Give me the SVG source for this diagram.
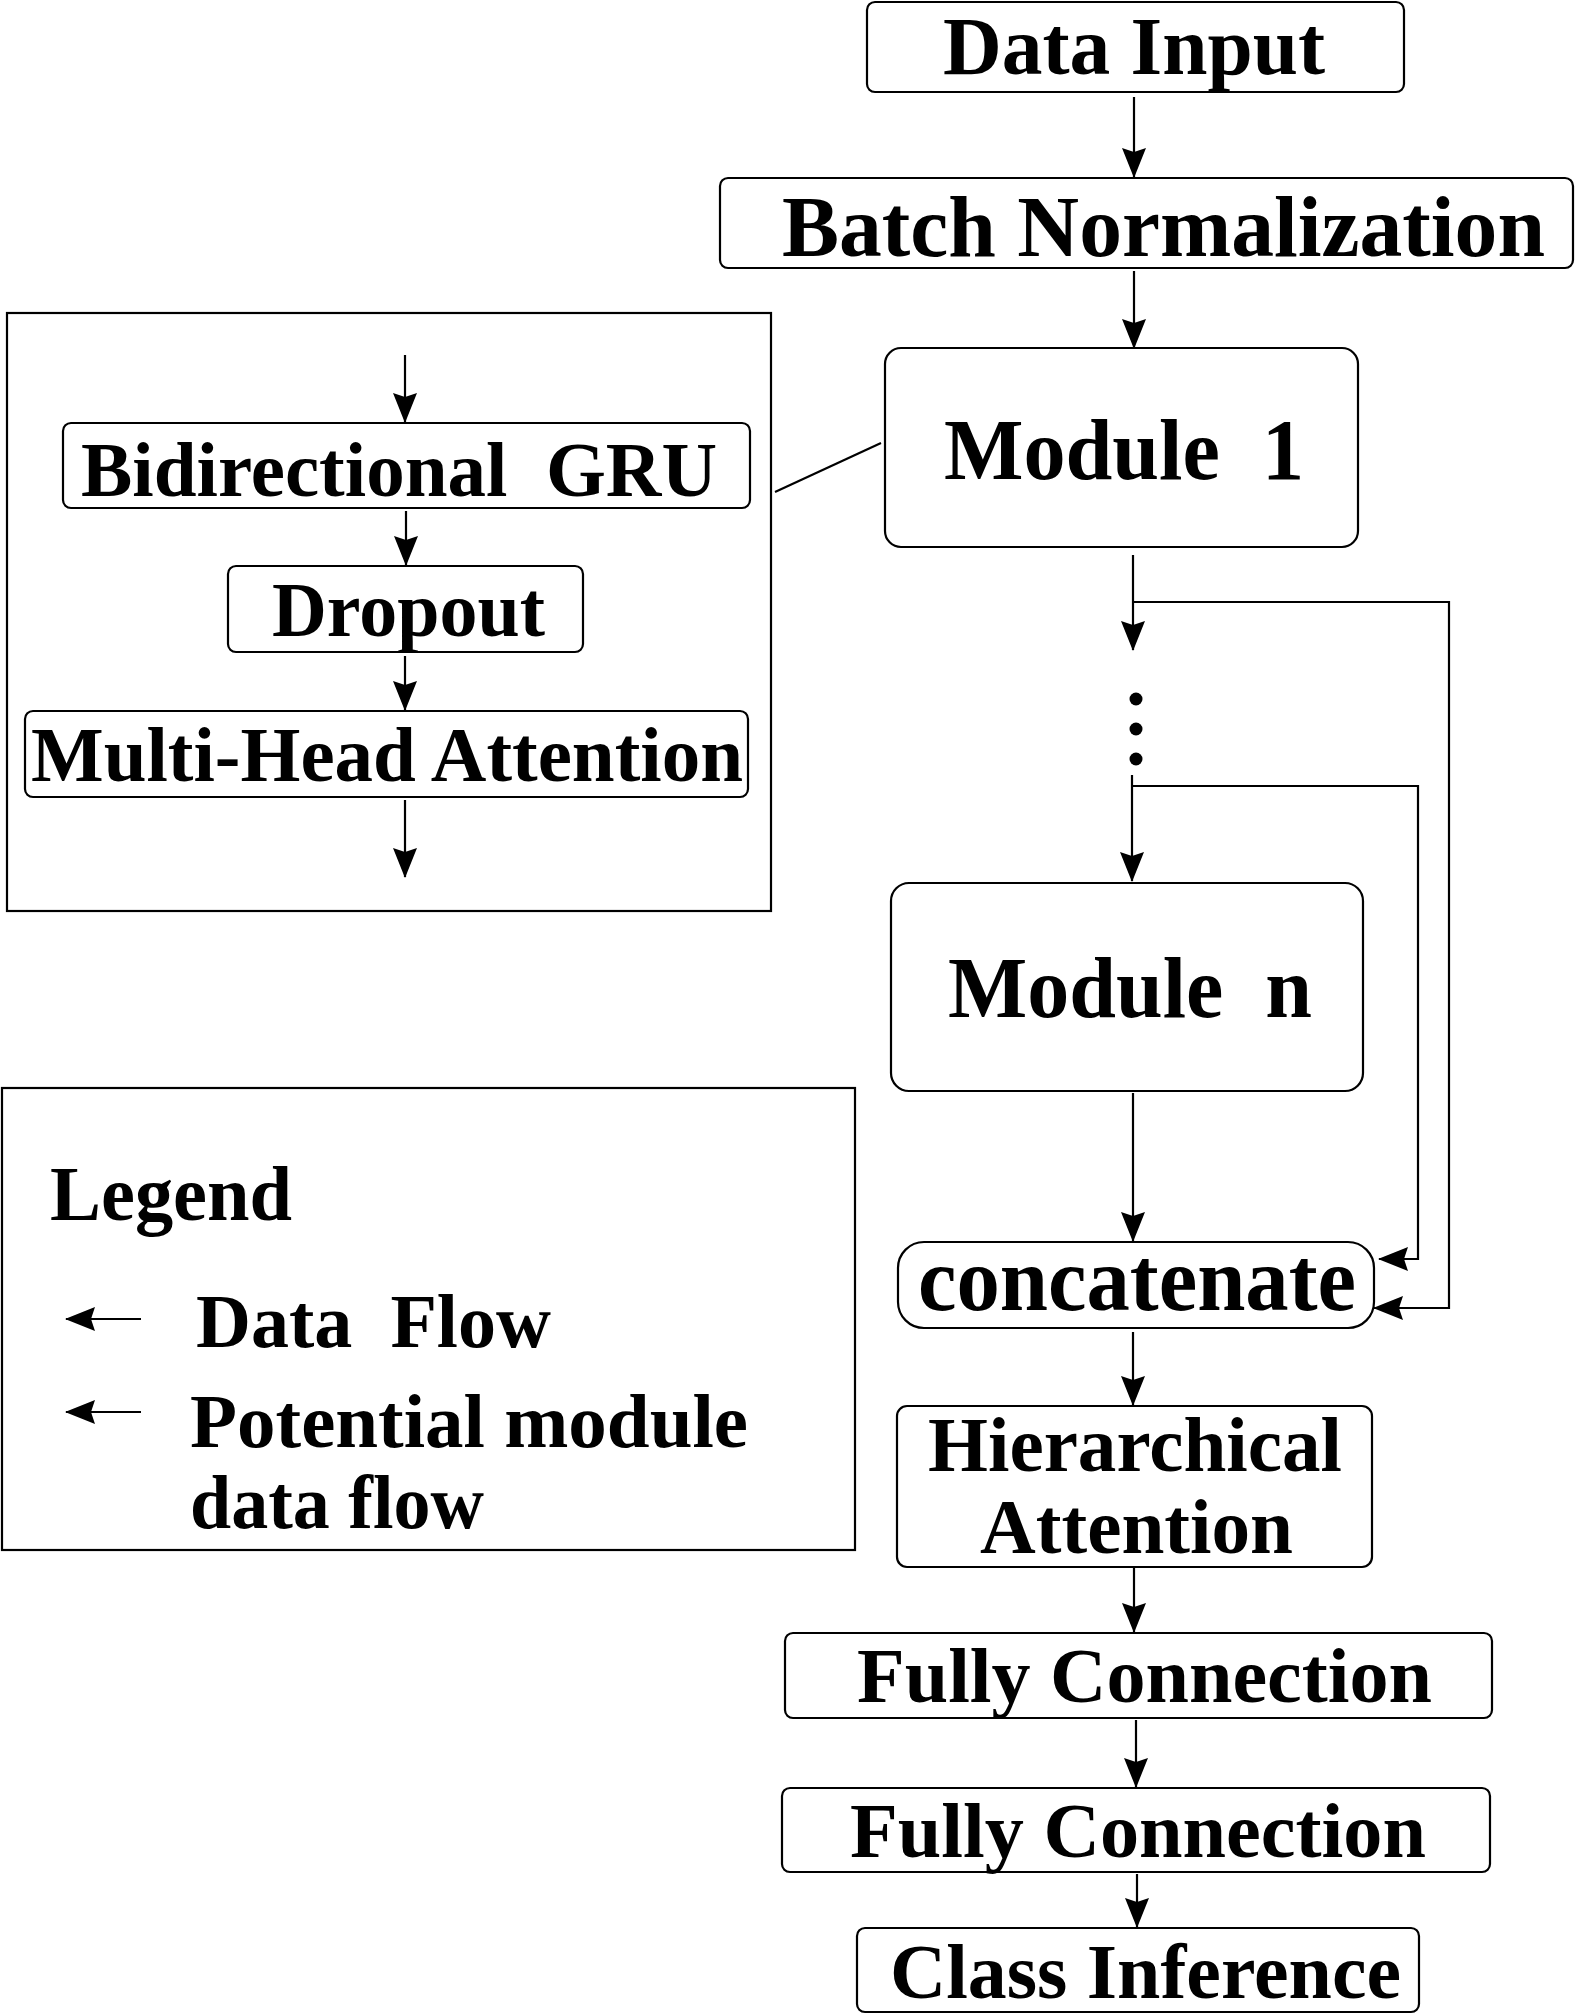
<svg xmlns="http://www.w3.org/2000/svg" width="1575" height="2015" viewBox="0 0 1575 2015">
<style>
.box{fill:#fff;stroke:#000;stroke-width:2.2}
.t{font-family:"Liberation Serif","Times New Roman",serif;font-weight:bold;fill:#000}
.ln{fill:none;stroke:#000;stroke-width:2.2}
.ar{fill:none;stroke:#000;stroke-width:2.2;marker-end:url(#ah)}
</style>
<defs>
<marker id="ah" viewBox="0 0 30 24" refX="29" refY="12" markerWidth="30" markerHeight="24" markerUnits="userSpaceOnUse" orient="auto">
<path d="M0,0 L30,12 L0,24 L4,12 z" fill="#000"/>
</marker>
</defs>
<rect width="1575" height="2015" fill="#fff"/>

<g id="module-detail">
<rect x="7" y="313" width="764" height="598" fill="none" stroke="#000" stroke-width="2.2"/>
</g>
<g id="bigru">
<rect class="box" x="63" y="423" width="687" height="85" rx="8"/>
<text class="t" x="81" y="496" font-size="78" textLength="636" lengthAdjust="spacingAndGlyphs" xml:space="preserve">Bidirectional  GRU</text>
</g>
<g id="dropout">
<rect class="box" x="228" y="566" width="355" height="86" rx="8"/>
<text class="t" x="272" y="636" font-size="78" textLength="273" lengthAdjust="spacingAndGlyphs">Dropout</text>
</g>
<g id="mha">
<rect class="box" x="25" y="711" width="723" height="86" rx="8"/>
<text class="t" x="31" y="781" font-size="78" textLength="712" lengthAdjust="spacingAndGlyphs">Multi-Head Attention</text>
</g>

<g id="data-input">
<rect class="box" x="867" y="2" width="537" height="90" rx="8"/>
<text class="t" x="943" y="74" font-size="82" textLength="382" lengthAdjust="spacingAndGlyphs">Data Input</text>
</g>
<g id="batch-norm">
<rect class="box" x="720" y="178" width="853" height="90" rx="8"/>
<text class="t" x="782" y="256" font-size="86" textLength="763" lengthAdjust="spacingAndGlyphs">Batch Normalization</text>
</g>
<g id="module-1">
<rect class="box" x="885" y="348" width="473" height="199" rx="16"/>
<text class="t" x="944" y="479" font-size="87" textLength="360" lengthAdjust="spacingAndGlyphs" xml:space="preserve">Module  1</text>
</g>
<g id="ellipsis">
<circle cx="1136" cy="699" r="6.5" fill="#000"/>
<circle cx="1136" cy="729" r="6.5" fill="#000"/>
<circle cx="1136" cy="759" r="6.5" fill="#000"/>
</g>
<g id="module-n">
<rect class="box" x="891" y="883" width="472" height="208" rx="18"/>
<text class="t" x="948" y="1017" font-size="86" textLength="364" lengthAdjust="spacingAndGlyphs" xml:space="preserve">Module  n</text>
</g>
<g id="concatenate">
<rect class="box" x="898" y="1242" width="476" height="86" rx="26"/>
<text class="t" x="918" y="1310" font-size="90" textLength="438" lengthAdjust="spacingAndGlyphs">concatenate</text>
</g>
<g id="hier-att">
<rect class="box" x="897" y="1406" width="475" height="161" rx="10"/>
<text class="t" x="928" y="1471" font-size="78" textLength="414" lengthAdjust="spacingAndGlyphs">Hierarchical</text>
<text class="t" x="980" y="1553" font-size="78" textLength="313" lengthAdjust="spacingAndGlyphs">Attention</text>
</g>
<g id="fc-1">
<rect class="box" x="785" y="1633" width="707" height="85" rx="8"/>
<text class="t" x="857" y="1702" font-size="78" textLength="575" lengthAdjust="spacingAndGlyphs">Fully Connection</text>
</g>
<g id="fc-2">
<rect class="box" x="782" y="1788" width="708" height="84" rx="8"/>
<text class="t" x="850" y="1857" font-size="78" textLength="576" lengthAdjust="spacingAndGlyphs">Fully Connection</text>
</g>
<g id="class-inference">
<rect class="box" x="857" y="1928" width="562" height="84" rx="8"/>
<text class="t" x="890" y="1998" font-size="78" textLength="511" lengthAdjust="spacingAndGlyphs">Class Inference</text>
</g>

<g id="legend">
<rect x="2" y="1088" width="853" height="462" fill="none" stroke="#000" stroke-width="2.2"/>
<text class="t" x="50" y="1220" font-size="78" textLength="242" lengthAdjust="spacingAndGlyphs">Legend</text>
<line class="ar" x1="141" y1="1319" x2="66" y2="1319"/>
<text class="t" x="196" y="1347" font-size="76" textLength="355" lengthAdjust="spacingAndGlyphs" xml:space="preserve">Data  Flow</text>
<line class="ar" x1="141" y1="1412" x2="66" y2="1412"/>
<text class="t" x="190" y="1447" font-size="76" textLength="558" lengthAdjust="spacingAndGlyphs">Potential module</text>
<text class="t" x="190" y="1528" font-size="76" textLength="294" lengthAdjust="spacingAndGlyphs">data flow</text>
</g>

<g id="connectors">
<line class="ar" x1="1134" y1="97" x2="1134" y2="177"/>
<line class="ar" x1="1134" y1="271" x2="1134" y2="348"/>
<line class="ar" x1="1133" y1="555" x2="1133" y2="650"/>
<polyline class="ar" points="1133,602 1449,602 1449,1308 1374,1308"/>
<line class="ar" x1="1132" y1="775" x2="1132" y2="881"/>
<polyline class="ar" points="1132,786 1418,786 1418,1259 1379,1259"/>
<line class="ar" x1="1133" y1="1093" x2="1133" y2="1241"/>
<line class="ar" x1="1133" y1="1332" x2="1133" y2="1405"/>
<line class="ar" x1="1134" y1="1568" x2="1134" y2="1632"/>
<line class="ar" x1="1136" y1="1720" x2="1136" y2="1787"/>
<line class="ar" x1="1137" y1="1874" x2="1137" y2="1927"/>
<line class="ar" x1="405" y1="355" x2="405" y2="422"/>
<line class="ar" x1="406" y1="511" x2="406" y2="565"/>
<line class="ar" x1="405" y1="656" x2="405" y2="710"/>
<line class="ar" x1="405" y1="800" x2="405" y2="877"/>
<line class="ln" x1="775" y1="492" x2="881" y2="443"/>
</g>
</svg>
